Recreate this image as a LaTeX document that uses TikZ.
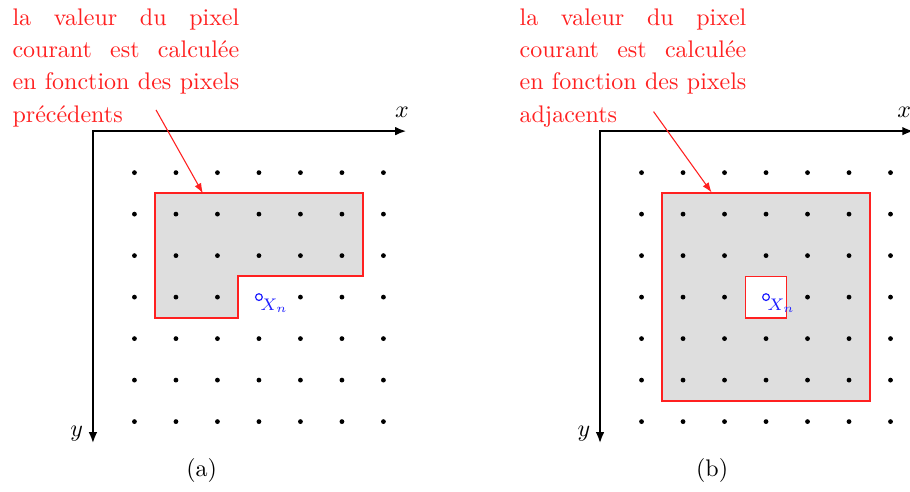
\documentclass[tikz,border=0pt]{standalone}
\usepackage{fontspec}
\usetikzlibrary{arrows.meta}
\definecolor{cred}{HTML}{FF2020}
\definecolor{cfill}{HTML}{DEDEDE}
\definecolor{cblue}{HTML}{2020FF}
\tikzset{
  axis/.style={line width=0.8pt, {Latex[length=4.6pt, width=3.6pt]}-{Latex[length=4.6pt, width=3.6pt]}},
  zone/.style={draw=cred, fill=cfill, line width=0.8pt},
  hole/.style={draw=cred, fill=white, line width=0.6pt},
  note/.style={text=cred, anchor=north west, inner sep=0pt, text width=94.5pt, align=justify,
    font=\fontsize{10}{13.45}\selectfont},
  pointer/.style={draw=cred, line width=0.45pt, -{Latex[length=4.2pt, width=3pt]}},
  current/.style={draw=cblue, line width=0.5pt},
  xn/.style={text=cblue, anchor=north west, inner sep=0.4pt, font=\scriptsize},
}

\begin{document}
\begin{tikzpicture}[x=17.29pt, y=-17.29pt]
  \useasboundingbox (-2.24,-3.16) rectangle (19.69,8.68);
  % (a) pixels precedents
  \begin{scope}
    \filldraw[zone] (1.5,1.5) -- (6.5,1.5) -- (6.5,3.5) -- (3.5,3.5) -- (3.5,4.5) -- (1.5,4.5) -- cycle;
    \foreach \i in {1,...,7} \foreach \j in {1,...,7} {
      \ifnum\numexpr\i*10+\j\relax=44 \else \fill (\i,\j) circle (1pt); \fi
    }
    \draw[axis] (7.55,0) -- (0,0) -- (0,7.52);
    \node (a-x) at (7.45,-0.45) {$x$};
    \node (a-y) at (-0.39,7.3) {$y$};
    \coordinate (a-cur) at (4,4);
    \draw[current] (a-cur) circle (1.4pt);
    \node[xn] (a-xn) at (a-cur) {$X_n$};
    \node[note] (a-note) at (-1.95,-2.96) {la valeur du pixel courant est calculée en fonction des pixels précédents};
    \coordinate (a-from) at (1.52,-0.51);
    \coordinate (a-to) at (2.65,1.5);
    \draw[pointer] (a-from) -- (a-to);
    \node (a-cap) at (2.62,8.17) {(a)};
  \end{scope}
  % (b) pixels adjacents
  \begin{scope}[shift={(12.22,0)}]
    \filldraw[zone] (1.5,1.5) rectangle (6.5,6.5);
    \filldraw[hole] (3.5,3.5) rectangle (4.5,4.5);
    \foreach \i in {1,...,7} \foreach \j in {1,...,7} {
      \ifnum\numexpr\i*10+\j\relax=44 \else \fill (\i,\j) circle (1pt); \fi
    }
    \draw[axis] (7.55,0) -- (0,0) -- (0,7.52);
    \node (b-x) at (7.33,-0.45) {$x$};
    \node (b-y) at (-0.39,7.3) {$y$};
    \coordinate (b-cur) at (4,4);
    \draw[current] (b-cur) circle (1.4pt);
    \node[xn] (b-xn) at (b-cur) {$X_n$};
    \node[note] (b-note) at (-1.95,-2.96) {la valeur du pixel courant est calculée en fonction des pixels adjacents};
    \coordinate (b-from) at (1.29,-0.47);
    \coordinate (b-to) at (2.69,1.48);
    \draw[pointer] (b-from) -- (b-to);
    \node (b-cap) at (2.7,8.17) {(b)};
  \end{scope}
\end{tikzpicture}
\end{document}
